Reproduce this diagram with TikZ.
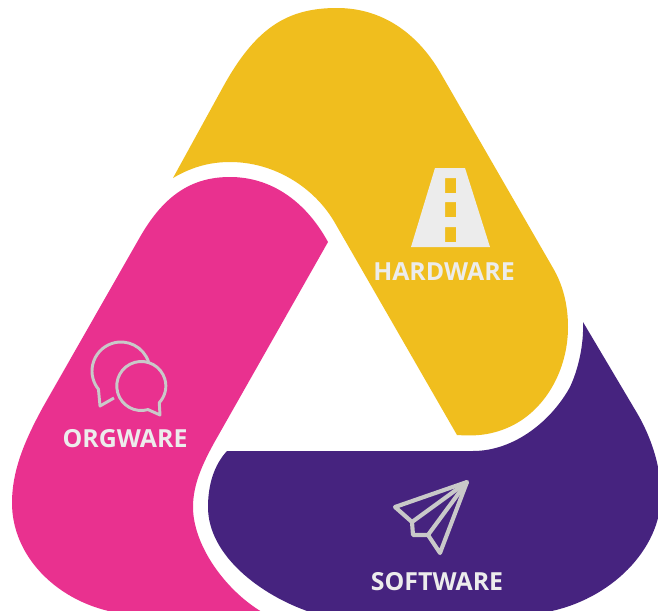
\documentclass[tikz,border=0pt]{standalone}
\usepackage{fontspec}
\setmainfont{Open Sans}
\definecolor{hwc}{HTML}{F0BE1E}
\definecolor{orgc}{HTML}{E9318F}
\definecolor{swc}{HTML}{46237F}
\definecolor{icn}{HTML}{ECECEC}
\definecolor{icg}{HTML}{C9C9C9}
\tikzset{lab/.style={font=\fontsize{18.6bp}{20bp}\bfseries,text=icn,inner sep=0pt},
chaticon/.style={draw=icg,line width=2.2pt,line join=round,fill=none},
planeicon/.style={draw=icg,line width=3.1pt,line join=round,fill=none}}
\begin{document}
\begin{tikzpicture}[x=0.75pt,y=-0.75pt]
\useasboundingbox (0,0) rectangle (658,611);
\fill[white] (0,0) rectangle (658,611);
\begin{scope}
\clip (0,0) rectangle (658,611);
% yellow
\fill[hwc] (173,178) -- (223,87)
 .. controls (256,27) and (288,8) .. (337,8)
 .. controls (382,8) and (417,33) .. (440,72)
 -- (553,268)
 .. controls (563,285) and (568,305) .. (568,327)
 .. controls (568,370) and (545,412) .. (507,428)
 .. controls (488,436) and (472,436) .. (457,435)
 -- (335,223)
 .. controls (315,188) and (275,162) .. (230,162)
 .. controls (208,162) and (190,168) .. (173,178) -- cycle;
% pink
\fill[orgc] (328,242) -- (214,443)
 .. controls (202,465) and (193,485) .. (193,507)
 .. controls (193,545) and (225,590) .. (262,612)
 -- (113,612)
 .. controls (55,600) and (12,555) .. (12,503)
 .. controls (12,470) and (25,440) .. (43,407)
 -- (140,237)
 .. controls (163,197) and (190,177) .. (230,177)
 .. controls (270,177) and (305,200) .. (328,242) -- cycle;
% purple
\fill[swc] (227,451) -- (473,451)
 .. controls (515,451) and (552,420) .. (570,387)
 .. controls (578,370) and (584,345) .. (583,322)
 -- (637,413)
 .. controls (650,435) and (661,465) .. (661,495)
 .. controls (661,550) and (610,600) .. (547,612)
 -- (310,612)
 .. controls (260,595) and (208,555) .. (208,507)
 .. controls (208,485) and (214,465) .. (227,451) -- cycle;
\end{scope}
% road icon
\fill[icn,even odd rule] (435,168) -- (465,168) -- (490,247) -- (411,247) -- cycle
 (445,178) rectangle (456,193) (445,202) rectangle (456,217) (445,227) rectangle (456,242);
\node[lab] (hw) at (444,272) {HARDWARE};
% chat icon
\draw[chaticon] (121,371) ++(18:21.75pt) arc[start angle=18,end angle=219,radius=21.75pt] -- (100,406) -- (114,398);
\draw[chaticon] (141.3,386) ++(-74:18.4pt) arc[start angle=-74,end angle=-403,radius=18.4pt] -- (160,415) -- cycle;
\node[lab] (org) at (125,439) {ORGWARE};
% plane icon
\draw[planeicon] (467,482) -- (395,507) -- (412,522) -- (413,535) -- (428,535) -- (440,553) -- cycle;
\draw[planeicon] (467,482) -- (412,522);
\draw[planeicon] (467,482) -- (428,535);
\node[lab] (sw) at (437,582) {SOFTWARE};
\end{tikzpicture}
\end{document}
